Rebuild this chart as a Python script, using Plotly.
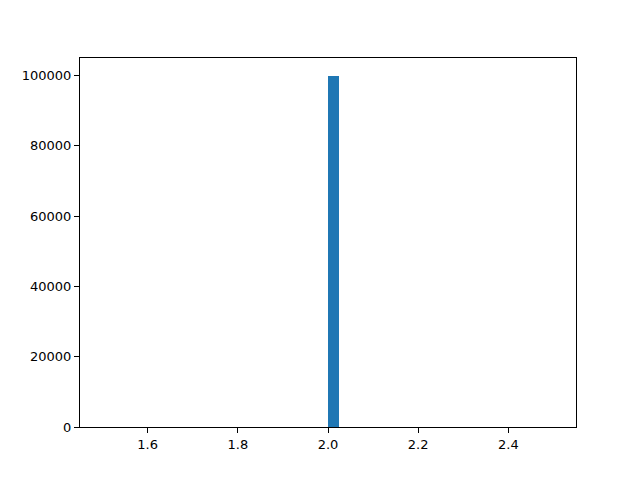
import plotly.graph_objects as go

# histogram of 100000 samples, all equal to 2 -> a single non-empty bin
bin_lefts = [2.0]
counts = [100000]
bin_width = 0.025

x_ticks = [1.6, 1.8, 2.0, 2.2, 2.4]
x_labels = ["1.6", "1.8", "2.0", "2.2", "2.4"]
y_ticks = [0, 20000, 40000, 60000, 80000, 100000]
y_labels = ["0", "20000", "40000", "60000", "80000", "100000"]

fig = go.Figure()
fig.add_bar(
    x=[b + bin_width / 2 for b in bin_lefts],
    y=counts,
    width=bin_width,
    marker=dict(color="#1f77b4", line=dict(width=0)),
)

axis_style = dict(
    showline=True, linecolor="black", linewidth=1, mirror=True,
    ticks="outside", ticklen=5, tickwidth=1, tickcolor="black",
    showgrid=False, zeroline=False,
    tickfont=dict(family="DejaVu Sans", size=13, color="black"),
)

fig.update_xaxes(range=[1.45, 2.55], tickvals=x_ticks, ticktext=x_labels, **axis_style)
fig.update_yaxes(range=[0, 105000], tickvals=y_ticks, ticktext=y_labels, **axis_style)

# page body adds an 8px offset, so margins are shifted to compensate
fig.update_layout(
    width=640, height=480,
    margin=dict(l=72, r=72, t=50, b=61),
    plot_bgcolor="white", paper_bgcolor="white",
    showlegend=False,
    bargap=0,
)

fig.write_html("out.html")
